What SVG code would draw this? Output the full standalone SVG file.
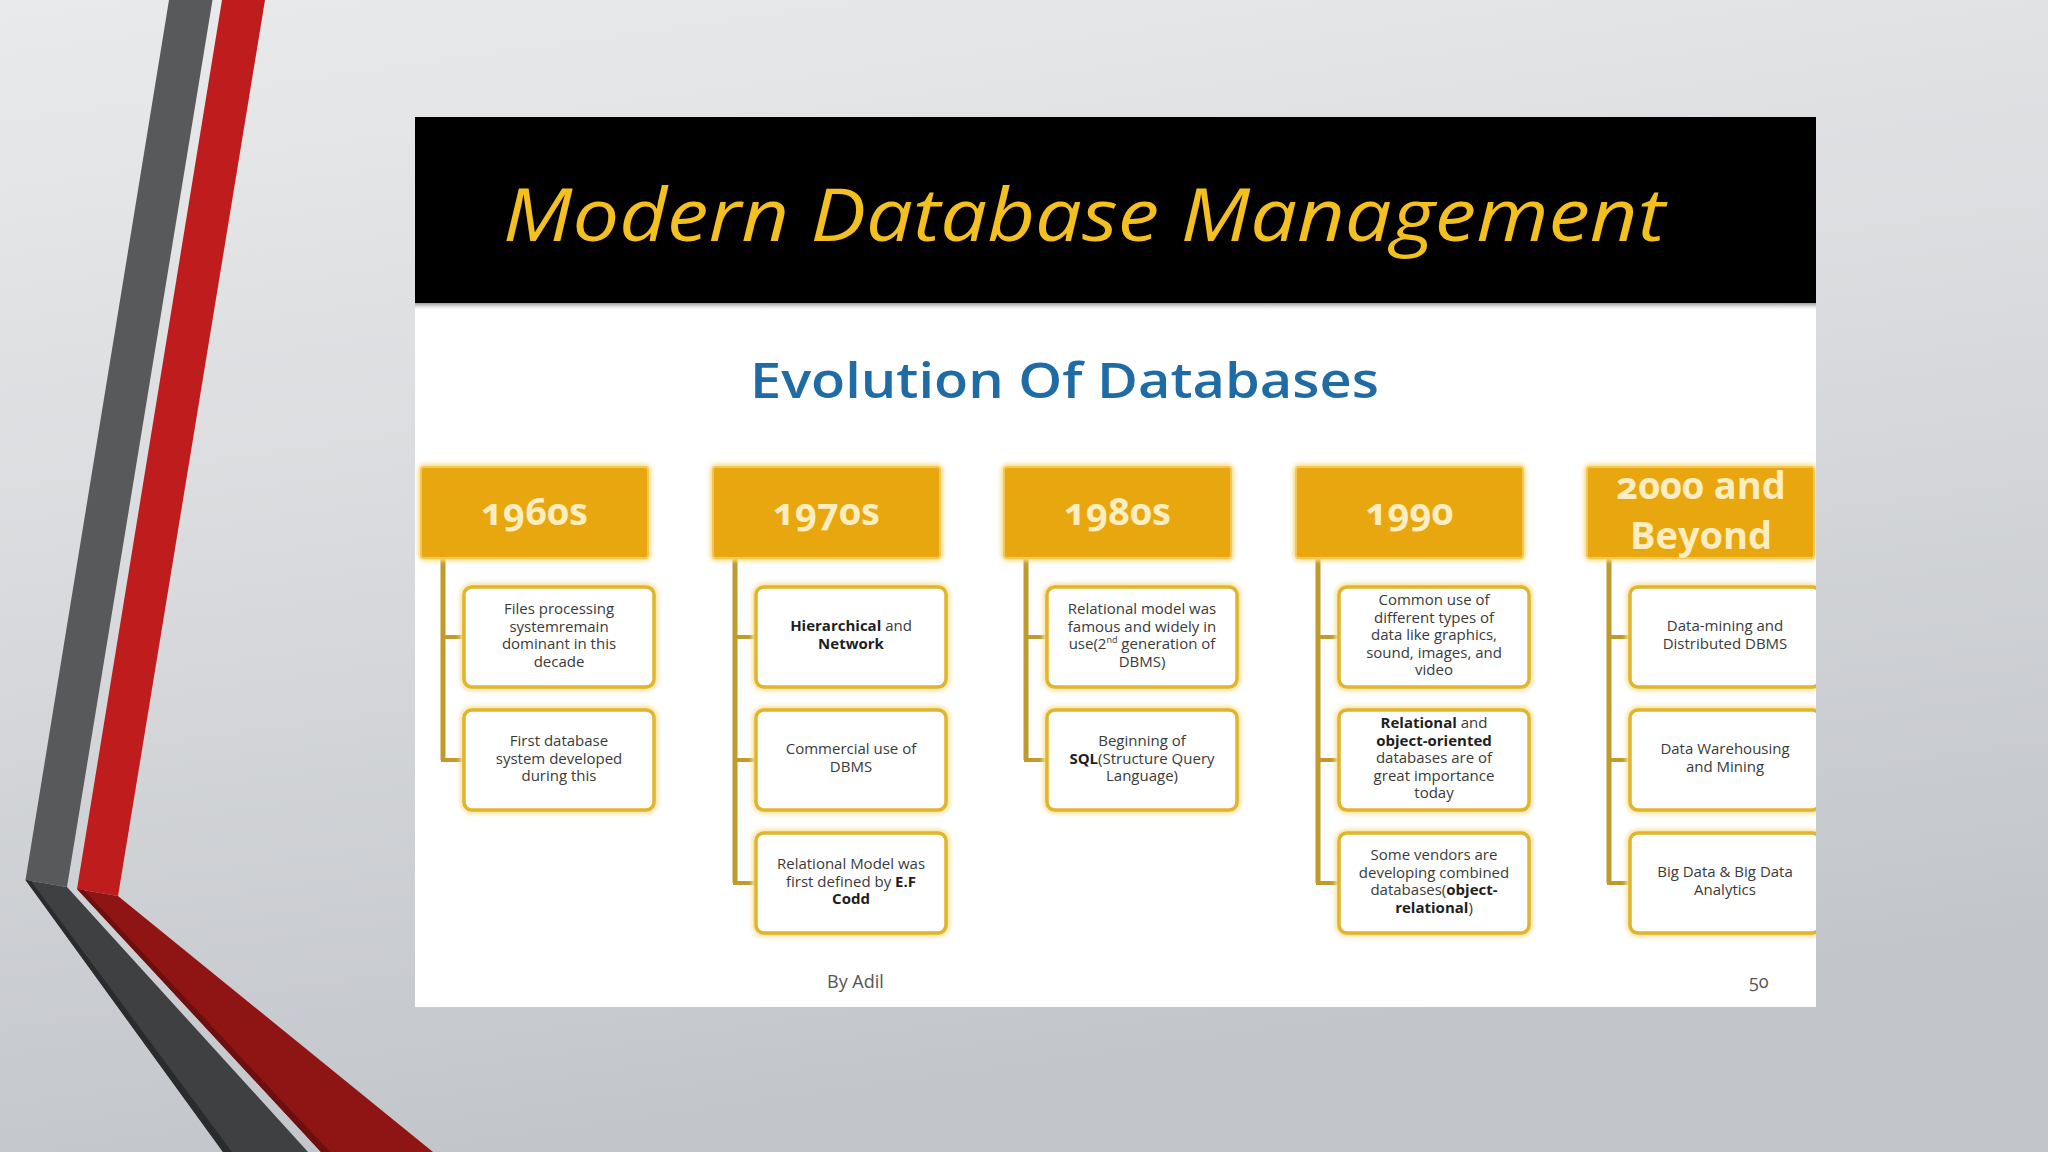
<svg xmlns="http://www.w3.org/2000/svg" width="2048" height="1152" viewBox="0 0 2048 1152">
<defs>
<linearGradient id="bg" x1="0" y1="0" x2="0.25" y2="1">
<stop offset="0" stop-color="#e9eaeb"/>
<stop offset="0.5" stop-color="#d8dadd"/>
<stop offset="1" stop-color="#c2c5ca"/>
</linearGradient>
<linearGradient id="hshadow" x1="0" y1="0" x2="0" y2="1">
<stop offset="0" stop-color="#9a9a9a"/>
<stop offset="1" stop-color="#ffffff" stop-opacity="0"/>
</linearGradient>
<clipPath id="panelClip"><rect x="415" y="117" width="1401" height="890"/></clipPath>
<filter id="glow" x="-10%" y="-10%" width="120%" height="120%">
<feGaussianBlur stdDeviation="2"/>
</filter>
</defs>
<style>
.title{font-family:"Open Sans","Liberation Sans",sans-serif;font-style:italic;font-weight:500;font-size:74px;fill:#f3c01f}
.sub{font-family:"Open Sans","Liberation Sans",sans-serif;font-weight:600;font-size:48px;fill:#1f6ba6}
.hdr{fill:#e9a70f;stroke:#f3c751;stroke-width:2}
.hglow{fill:none;stroke:#f7dc8a;stroke-width:6;filter:url(#glow)}
.htxt{font-family:"Open Sans","Liberation Sans",sans-serif;font-weight:700;font-size:38px;fill:#fdeec2;text-anchor:middle;font-variant-numeric:oldstyle-nums}
.box{fill:#ffffff;stroke:#e1b42c;stroke-width:3.5}
.bglow{fill:none;stroke:#f6e3a0;stroke-width:8;filter:url(#glow)}
.btxt{font-family:"Open Sans","Liberation Sans",sans-serif;font-size:15px;fill:#3a3a3a;text-anchor:middle}
.b{font-weight:700;fill:#1e1e1e}
.conn{stroke:#c09a2c;stroke-width:5;fill:none}
.branch{stroke:#c09a2c;stroke-width:4;fill:none}
.foot{font-family:"Open Sans","Liberation Sans",sans-serif;font-size:18px;fill:#555555}
</style>
<rect width="2048" height="1152" fill="url(#bg)"/>
<g id="sidebar">
<polygon points="169,0 212.5,0 67,887 25.5,880" fill="#58595b"/>
<polygon points="25.5,880 67,887 308,1152 223,1152" fill="#3f4042"/>
<polygon points="25.5,880 31,881 232,1152 223,1152" fill="#2a2b2d"/>
<polygon points="222,0 265,0 118,896 77,889" fill="#bf1c1d"/>
<polygon points="77,889 118,896 433,1152 321,1152" fill="#8f1515"/>
<polygon points="77,889 84,890 330,1152 321,1152" fill="#6e0f0f"/>
</g>
<g id="slide">
<rect x="415" y="303" width="1401" height="704" fill="#ffffff"/>
<rect x="415" y="303" width="1401" height="8" fill="url(#hshadow)"/>
<rect x="415" y="117" width="1401" height="186" fill="#000000"/>
<text class="title" x="503" y="241" textLength="1162" lengthAdjust="spacingAndGlyphs">Modern Database Management</text>
<text class="sub" x="750" y="398" textLength="629" lengthAdjust="spacingAndGlyphs">Evolution Of Databases</text>
<text class="foot" x="827" y="988">By Adil</text>
<text class="foot" x="1749" y="988" style="font-variant-numeric:oldstyle-nums">50</text>
</g>
<g clip-path="url(#panelClip)">
<g id="connectors">
<line class="conn" x1="443" y1="558" x2="443" y2="760"/>
<line class="branch" x1="441" y1="637" x2="464" y2="637"/>
<line class="branch" x1="441" y1="760" x2="464" y2="760"/>
<line class="conn" x1="735" y1="558" x2="735" y2="883"/>
<line class="branch" x1="733" y1="637" x2="756" y2="637"/>
<line class="branch" x1="733" y1="760" x2="756" y2="760"/>
<line class="branch" x1="733" y1="883" x2="756" y2="883"/>
<line class="conn" x1="1026" y1="558" x2="1026" y2="760"/>
<line class="branch" x1="1024" y1="637" x2="1047" y2="637"/>
<line class="branch" x1="1024" y1="760" x2="1047" y2="760"/>
<line class="conn" x1="1318" y1="558" x2="1318" y2="883"/>
<line class="branch" x1="1316" y1="637" x2="1339" y2="637"/>
<line class="branch" x1="1316" y1="760" x2="1339" y2="760"/>
<line class="branch" x1="1316" y1="883" x2="1339" y2="883"/>
<line class="conn" x1="1609" y1="558" x2="1609" y2="883"/>
<line class="branch" x1="1607" y1="637" x2="1630" y2="637"/>
<line class="branch" x1="1607" y1="760" x2="1630" y2="760"/>
<line class="branch" x1="1607" y1="883" x2="1630" y2="883"/>
</g>

<g id="h1960">
<rect class="hglow" x="421" y="467" width="227" height="91" rx="3"/>
<rect class="hdr" x="421" y="467" width="227" height="91" rx="3"/>
<text class="htxt" x="534.5" y="525">1960s</text>
</g>
<g id="c1960a">
<rect class="bglow" x="464" y="587" width="190" height="100" rx="8"/>
<rect class="box" x="464" y="587" width="190" height="100" rx="8"/>
<text class="btxt" x="559" y="614"><tspan x="559">Files processing</tspan><tspan x="559" dy="17.5">systemremain</tspan><tspan x="559" dy="17.5">dominant in this</tspan><tspan x="559" dy="17.5">decade</tspan></text>
</g>
<g id="c1960b">
<rect class="bglow" x="464" y="710" width="190" height="100" rx="8"/>
<rect class="box" x="464" y="710" width="190" height="100" rx="8"/>
<text class="btxt" x="559" y="746"><tspan x="559">First database</tspan><tspan x="559" dy="17.5">system developed</tspan><tspan x="559" dy="17.5">during this</tspan></text>
</g>

<g id="h1970">
<rect class="hglow" x="713" y="467" width="227" height="91" rx="3"/>
<rect class="hdr" x="713" y="467" width="227" height="91" rx="3"/>
<text class="htxt" x="826.5" y="525">1970s</text>
</g>
<g id="c1970a">
<rect class="bglow" x="756" y="587" width="190" height="100" rx="8"/>
<rect class="box" x="756" y="587" width="190" height="100" rx="8"/>
<text class="btxt" x="851" y="631"><tspan x="851"><tspan class="b">Hierarchical</tspan> and</tspan><tspan x="851" dy="17.5" class="b">Network</tspan></text>
</g>
<g id="c1970b">
<rect class="bglow" x="756" y="710" width="190" height="100" rx="8"/>
<rect class="box" x="756" y="710" width="190" height="100" rx="8"/>
<text class="btxt" x="851" y="754"><tspan x="851">Commercial use of</tspan><tspan x="851" dy="17.5">DBMS</tspan></text>
</g>
<g id="c1970c">
<rect class="bglow" x="756" y="833" width="190" height="100" rx="8"/>
<rect class="box" x="756" y="833" width="190" height="100" rx="8"/>
<text class="btxt" x="851" y="869"><tspan x="851">Relational Model was</tspan><tspan x="851" dy="17.5">first defined by <tspan class="b">E.F</tspan></tspan><tspan x="851" dy="17.5" class="b">Codd</tspan></text>
</g>

<g id="h1980">
<rect class="hglow" x="1004" y="467" width="227" height="91" rx="3"/>
<rect class="hdr" x="1004" y="467" width="227" height="91" rx="3"/>
<text class="htxt" x="1117.5" y="525">1980s</text>
</g>
<g id="c1980a">
<rect class="bglow" x="1047" y="587" width="190" height="100" rx="8"/>
<rect class="box" x="1047" y="587" width="190" height="100" rx="8"/>
<text class="btxt" x="1142" y="614"><tspan x="1142">Relational model was</tspan><tspan x="1142" dy="17.5">famous and widely in</tspan><tspan x="1142" dy="17.5">use(2<tspan font-size="9" dy="-6">nd</tspan><tspan dy="6"> generation of</tspan></tspan><tspan x="1142" dy="17.5">DBMS)</tspan></text>
</g>
<g id="c1980b">
<rect class="bglow" x="1047" y="710" width="190" height="100" rx="8"/>
<rect class="box" x="1047" y="710" width="190" height="100" rx="8"/>
<text class="btxt" x="1142" y="746"><tspan x="1142">Beginning of</tspan><tspan x="1142" dy="17.5"><tspan class="b">SQL</tspan>(Structure Query</tspan><tspan x="1142" dy="17.5">Language)</tspan></text>
</g>

<g id="h1990">
<rect class="hglow" x="1296" y="467" width="227" height="91" rx="3"/>
<rect class="hdr" x="1296" y="467" width="227" height="91" rx="3"/>
<text class="htxt" x="1409.5" y="525">1990</text>
</g>
<g id="c1990a">
<rect class="bglow" x="1339" y="587" width="190" height="100" rx="8"/>
<rect class="box" x="1339" y="587" width="190" height="100" rx="8"/>
<text class="btxt" x="1434" y="605"><tspan x="1434">Common use of</tspan><tspan x="1434" dy="17.5">different types of</tspan><tspan x="1434" dy="17.5">data like graphics,</tspan><tspan x="1434" dy="17.5">sound, images, and</tspan><tspan x="1434" dy="17.5">video</tspan></text>
</g>
<g id="c1990b">
<rect class="bglow" x="1339" y="710" width="190" height="100" rx="8"/>
<rect class="box" x="1339" y="710" width="190" height="100" rx="8"/>
<text class="btxt" x="1434" y="728"><tspan x="1434"><tspan class="b">Relational</tspan> and</tspan><tspan x="1434" dy="17.5" class="b">object-oriented</tspan><tspan x="1434" dy="17.5">databases are of</tspan><tspan x="1434" dy="17.5">great importance</tspan><tspan x="1434" dy="17.5">today</tspan></text>
</g>
<g id="c1990c">
<rect class="bglow" x="1339" y="833" width="190" height="100" rx="8"/>
<rect class="box" x="1339" y="833" width="190" height="100" rx="8"/>
<text class="btxt" x="1434" y="860"><tspan x="1434">Some vendors are</tspan><tspan x="1434" dy="17.5">developing combined</tspan><tspan x="1434" dy="17.5">databases(<tspan class="b">object-</tspan></tspan><tspan x="1434" dy="17.5"><tspan class="b">relational</tspan>)</tspan></text>
</g>

<g id="h2000">
<rect class="hglow" x="1587" y="467" width="227" height="91" rx="3"/>
<rect class="hdr" x="1587" y="467" width="227" height="91" rx="3"/>
<text class="htxt" x="1701" y="499" font-size="31">2000 and</text>
<text class="htxt" x="1701" y="549" font-size="31">Beyond</text>
</g>
<g id="c2000a">
<rect class="bglow" x="1630" y="587" width="190" height="100" rx="8"/>
<rect class="box" x="1630" y="587" width="190" height="100" rx="8"/>
<text class="btxt" x="1725" y="631"><tspan x="1725">Data-mining and</tspan><tspan x="1725" dy="17.5">Distributed DBMS</tspan></text>
</g>
<g id="c2000b">
<rect class="bglow" x="1630" y="710" width="190" height="100" rx="8"/>
<rect class="box" x="1630" y="710" width="190" height="100" rx="8"/>
<text class="btxt" x="1725" y="754"><tspan x="1725">Data Warehousing</tspan><tspan x="1725" dy="17.5">and Mining</tspan></text>
</g>
<g id="c2000c">
<rect class="bglow" x="1630" y="833" width="190" height="100" rx="8"/>
<rect class="box" x="1630" y="833" width="190" height="100" rx="8"/>
<text class="btxt" x="1725" y="877"><tspan x="1725">Big Data &amp; Big Data</tspan><tspan x="1725" dy="17.5">Analytics</tspan></text>
</g>
</g>
</svg>
